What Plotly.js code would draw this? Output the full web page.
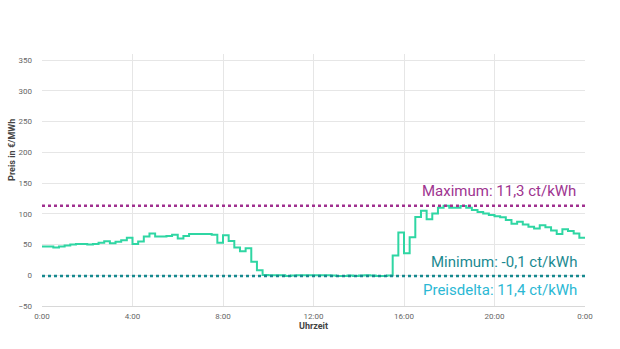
<!DOCTYPE html>
<html>
<head>
<meta charset="utf-8">
<script src="https://cdn.plot.ly/plotly-3.0.1.min.js"></script>
<style>html,body{margin:0;padding:0;background:#fff;}#chart{width:620px;height:349px;}</style>
</head>
<body>
<div id="chart"></div>
<script>
// quarter-hour prices in €/MWh, 0:00 .. 23:45
var prices = [
  47, 47, 45, 47, 48.5, 50, 51, 51, 50, 51, 53, 55.5, 52, 54.5, 57, 61,
  51, 55, 63, 68, 63, 63, 64, 66, 60, 64, 67, 67, 67, 67, 66, 53,
  65, 55.6, 45, 39, 44, 22, 8,
  0.5, 0, 0, 0, -1, -0.5, 0, 0, 0, 0, 0, 0, -0.5, -1, -1, -0.5, -1, -0.5, 0, -0.5, -1, -1, -0.5,
  32, 69.5, 36, 62, 95, 105, 91, 100.5, 110, 113, 110, 110, 112.5, 110, 106, 103,
  100.5, 98, 96, 94.5, 90, 84, 87, 82.5, 79, 76, 81.5, 78, 73, 67, 75, 72, 68, 61
];
var tickHours = [0, 4, 8, 12, 16, 20, 24];
var tickLabels = ['0:00', '4:00', '8:00', '12:00', '16:00', '20:00', '0:00'];
var yTicks = [-50, 0, 50, 100, 150, 200, 250, 300, 350];
var maxLabel = 'Maximum: 11,3 ct/kWh';
var minLabel = 'Minimum: -0,1 ct/kWh';
var deltaLabel = 'Preisdelta: 11,4 ct/kWh';

var hours = prices.map(function(_, i){ return i / 4; });
var xs = hours.concat([24]);
var ys = prices.concat([prices[prices.length - 1]]);
var pMax = Math.max.apply(null, prices);
var pMin = Math.min.apply(null, prices);

var trace = {
  x: xs, y: ys, type: 'scatter', mode: 'lines',
  line: {shape: 'hv', color: '#2fd6a3', width: 2},
  hoverinfo: 'skip', showlegend: false
};

var layout = {
  width: 620, height: 349,
  margin: {l: 42, r: 35, t: 54, b: 43},
  paper_bgcolor: '#fff', plot_bgcolor: '#fff',
  font: {family: 'Roboto, sans-serif', color: '#666', size: 8},
  xaxis: {
    range: [0, 24], tickvals: tickHours, ticktext: tickLabels,
    showgrid: true, gridcolor: '#e6e6e6', gridwidth: 1,
    zeroline: false, showline: true, linecolor: '#d8d8d8', linewidth: 1,
    ticks: '', ticklabelstandoff: 2,
    tickfont: {size: 8, color: '#666'},
    title: {text: 'Uhrzeit', font: {size: 9, color: '#444', family: 'Roboto, sans-serif', weight: 'bold'}, standoff: 3}
  },
  yaxis: {
    range: [-50, 360], tickvals: yTicks,
    showgrid: true, gridcolor: '#e6e6e6', gridwidth: 1,
    zeroline: false, showline: false, ticks: '', ticklabelstandoff: 9,
    tickfont: {size: 8, color: '#666'}
  },
  shapes: [
    {type: 'line', xref: 'x', yref: 'y', x0: 0, x1: 24, y0: pMax, y1: pMax,
     line: {color: '#a0308f', width: 2.5, dash: 'dot'}},
    {type: 'line', xref: 'x', yref: 'y', x0: 0, x1: 24, y0: pMin, y1: pMin,
     line: {color: '#16898f', width: 2.5, dash: 'dot'}}
  ],
  annotations: [
    {text: maxLabel, xref: 'x', yref: 'y', x: 24, y: pMax, xanchor: 'right', yanchor: 'middle',
     xshift: -7, yshift: 15, showarrow: false, font: {size: 15, color: '#9e3490', family: 'Roboto, sans-serif'}},
    {text: minLabel, xref: 'x', yref: 'y', x: 24, y: pMin, xanchor: 'right', yanchor: 'middle',
     xshift: -6, yshift: 14, showarrow: false, font: {size: 15, color: '#1b8a91', family: 'Roboto, sans-serif'}},
    {text: deltaLabel, xref: 'x', yref: 'y', x: 24, y: pMin, xanchor: 'right', yanchor: 'middle',
     xshift: -6, yshift: -14, showarrow: false, font: {size: 15, color: '#2bb8d4', family: 'Roboto, sans-serif'}},
    {text: 'Preis in €/MWh', xref: 'paper', yref: 'paper', x: -0.055, y: 0.62,
     xanchor: 'center', yanchor: 'middle', textangle: -90, showarrow: false,
     font: {size: 9, color: '#444', family: 'Roboto, sans-serif', weight: 'bold'}}
  ]
};

Plotly.newPlot('chart', [trace], layout, {displayModeBar: false, staticPlot: true});
</script>
</body>
</html>
